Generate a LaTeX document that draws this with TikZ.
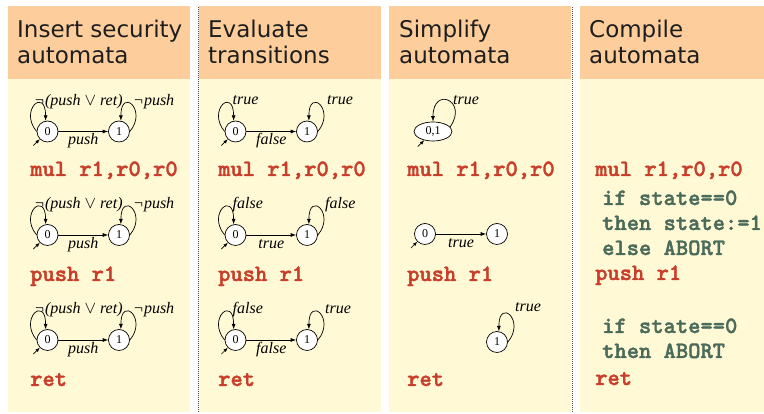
\documentclass[tikz,border=0pt]{standalone}
\usepackage{fontspec}
\usetikzlibrary{arrows.meta,shapes.geometric}
\newfontfamily\headfont{DejaVu Sans}
\newfontfamily\labfont{Liberation Serif}
\newfontfamily\codefont{lmmonolt10-bold.otf}[FakeBold=1.6]
\definecolor{hdr}{RGB}{253,206,155}
\definecolor{bdy}{RGB}{255,249,213}
\definecolor{codered}{RGB}{200,62,42}
\definecolor{codegreen}{RGB}{74,106,90}
\definecolor{headtext}{RGB}{30,30,30}
\begin{document}
\begin{tikzpicture}[x=1pt,y=1pt,
  state/.style={circle, draw, fill=white, line width=0.7pt, minimum size=21pt, inner sep=0pt, font=\labfont\fontsize{12}{12}\selectfont},
  estate/.style={ellipse, draw, fill=white, line width=0.7pt, minimum width=38pt, minimum height=19pt, inner sep=0pt, font=\labfont\fontsize{12}{12}\selectfont},
  arr/.style={-{Latex[length=5.5pt,width=4pt]}, line width=0.7pt},
  initarr/.style={-{Latex[length=4.5pt,width=3.5pt]}, line width=0.7pt},
  lloop/.style={to path={(\tikztostart.180) .. controls +(130:28) and +(90:34) .. (\tikztotarget.100)}},
  rloop/.style={to path={(\tikztostart.0) .. controls +(50:28) and +(90:34) .. (\tikztotarget.80)}},
  eloop/.style={to path={(\tikztostart.15) .. controls +(55:32) and +(90:36) .. (\tikztotarget.north)}},
  lab/.style={font=\labfont\itshape\fontsize{16}{18}\selectfont, anchor=base west, inner sep=0pt},
  elab/.style={font=\labfont\itshape\fontsize{16}{18}\selectfont, anchor=base, inner sep=0pt, yshift=-13.5pt},
  code/.style={font=\codefont\fontsize{23.4}{25}\selectfont, text=codered, anchor=base west, inner sep=0pt},
  gcode/.style={font=\codefont\fontsize{23.4}{25}\selectfont, text=codegreen, anchor=base west, inner sep=0pt},
  head/.style={font=\headfont\fontsize{23}{26}\selectfont, text=headtext, anchor=base west, inner sep=0pt},
  sep/.style={line width=0.6pt, gray!60!black, dash pattern=on 1pt off 1pt}
]
\useasboundingbox (0,0) rectangle (764,414);
% columns
\fill[bdy] (8,2) rectangle (190,335);   \fill[hdr] (8,335) rectangle (190,408);
\fill[bdy] (199,2) rectangle (381,335); \fill[hdr] (199,335) rectangle (381,408);
\fill[bdy] (389,2) rectangle (571,335); \fill[hdr] (389,335) rectangle (571,408);
\fill[bdy] (580,2) rectangle (764,335); \fill[hdr] (580,335) rectangle (764,408);
\draw[sep] (198.5,2) -- (198.5,408);
\draw[sep] (572.5,2) -- (572.5,408);
% headers
\node[head] (h1a) at (17,376.3) {Insert security};
\node[head] (h1b) at (17,350) {automata};
\node[head] (h2a) at (208,376.3) {Evaluate};
\node[head] (h2b) at (208,350) {transitions};
\node[head] (h3a) at (399,376.3) {Simplify};
\node[head] (h3b) at (399,350) {automata};
\node[head] (h4a) at (589,376.3) {Compile};
\node[head] (h4b) at (589,350) {automata};

% ---------- column 1 ----------
\node[state] (a1) at (47.5,282.5) {0};
\node[state] (b1) at (119,282.5) {1};
\draw[arr] (a1) -- node[elab] (ea1) {push} (b1);
\path (a1) edge[arr,lloop] (a1) (b1) edge[arr,rloop] (b1);
\draw[initarr] (a1.225) ++(225:9) -- (a1.225);
\node[lab] (la1) at (34,308) {¬(push $\vee$ ret)};
\node[lab] (lb1) at (133,308) {¬push};

\node[state] (a2) at (47.5,179) {0};
\node[state] (b2) at (119,179) {1};
\draw[arr] (a2) -- node[elab] (ea2) {push} (b2);
\path (a2) edge[arr,lloop] (a2) (b2) edge[arr,rloop] (b2);
\draw[initarr] (a2.225) ++(225:9) -- (a2.225);
\node[lab] (la2) at (34,205) {¬(push $\vee$ ret)};
\node[lab] (lb2) at (133,205) {¬push};

\node[state] (a3) at (47.5,74) {0};
\node[state] (b3) at (119,74) {1};
\draw[arr] (a3) -- node[elab] (ea3) {push} (b3);
\path (a3) edge[arr,lloop] (a3) (b3) edge[arr,rloop] (b3);
\draw[initarr] (a3.225) ++(225:9) -- (a3.225);
\node[lab] (la3) at (34,100) {¬(push $\vee$ ret)};
\node[lab] (lb3) at (133,100) {¬push};

\node[code] (c1m) at (30,238) {mul r1,r0,r0};
\node[code] (c1p) at (30,133) {push r1};
\node[code] (c1r) at (30,28) {ret};

% ---------- column 2 ----------
\node[state] (p1) at (235.5,282.5) {0};
\node[state] (q1) at (307,282.5) {1};
\draw[arr] (p1) -- node[elab] (ep1) {false} (q1);
\path (p1) edge[arr,lloop] (p1) (q1) edge[arr,rloop] (q1);
\draw[initarr] (p1.225) ++(225:9) -- (p1.225);
\node[lab] (lp1) at (232.5,309) {true};
\node[lab] (lq1) at (327,309) {true};

\node[state] (p2) at (235.5,179) {0};
\node[state] (q2) at (307,179) {1};
\draw[arr] (p2) -- node[elab] (ep2) {true} (q2);
\path (p2) edge[arr,lloop] (p2) (q2) edge[arr,rloop] (q2);
\draw[initarr] (p2.225) ++(225:9) -- (p2.225);
\node[lab] (lp2) at (232.5,205) {false};
\node[lab] (lq2) at (325,205) {false};

\node[state] (p3) at (235.5,74) {0};
\node[state] (q3) at (307,74) {1};
\draw[arr] (p3) -- node[elab] (ep3) {false} (q3);
\path (p3) edge[arr,lloop] (p3) (q3) edge[arr,rloop] (q3);
\draw[initarr] (p3.225) ++(225:9) -- (p3.225);
\node[lab] (lp3) at (232.5,100) {false};
\node[lab] (lq3) at (325,100) {true};

\node[code] (c2m) at (218,238) {mul r1,r0,r0};
\node[code] (c2p) at (218,133) {push r1};
\node[code] (c2r) at (218,28) {ret};

% ---------- column 3 ----------
\node[estate] (e1) at (433,282.5) {0,1};
\path (e1) edge[arr,eloop] (e1);
\draw[initarr] (e1.225) ++(225:9) -- (e1.225);
\node[lab] (le1) at (453,309) {true};

\node[state] (u2) at (425,180) {0};
\node[state] (v2) at (497,180) {1};
\draw[arr] (u2) -- node[elab] (eu2) {true} (v2);
\draw[initarr] (u2.225) ++(225:9) -- (u2.225);

\node[state] (v3) at (497,72) {1};
\path (v3) edge[arr,rloop] (v3);
\node[lab] (lv3) at (515,102) {true};

\node[code] (c3m) at (407,238) {mul r1,r0,r0};
\node[code] (c3p) at (407,133) {push r1};
\node[code] (c3r) at (407,28) {ret};

% ---------- column 4 ----------
\node[code] (c4m) at (595,238) {mul r1,r0,r0};
\node[gcode] (g1) at (602,209) {if state==0};
\node[gcode] (g2) at (602,184) {then state:=1};
\node[gcode] (g3) at (602,159) {else ABORT};
\node[code] (c4p) at (595,134) {push r1};
\node[gcode] (g4) at (602,81) {if state==0};
\node[gcode] (g5) at (602,56) {then ABORT};
\node[code] (c4r) at (595,29) {ret};
\end{tikzpicture}
\end{document}
